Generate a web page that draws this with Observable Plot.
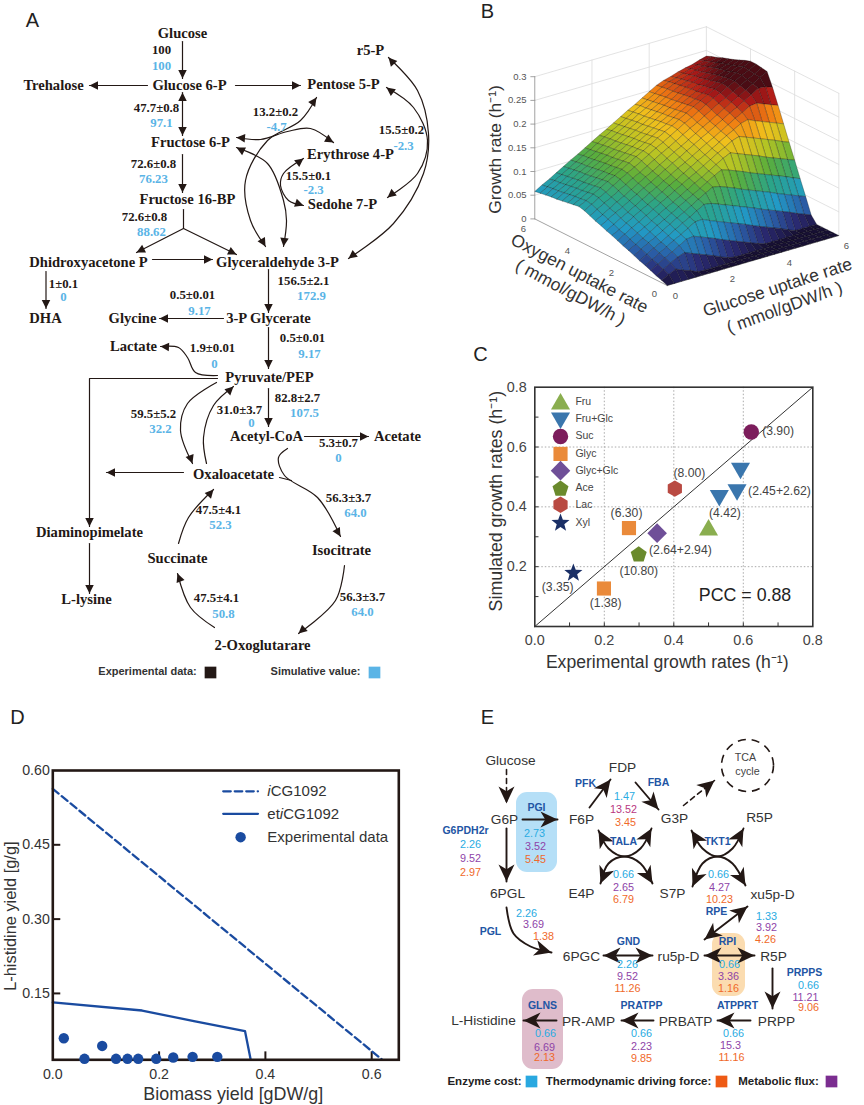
<!DOCTYPE html>
<html><head><meta charset="utf-8">
<style>html,body{margin:0;padding:0;background:#fff}#page{position:relative;width:864px;height:1105px;overflow:hidden}</style>
<script src="https://cdn.jsdelivr.net/npm/d3@7"></script>
<script src="https://cdn.jsdelivr.net/npm/@observablehq/plot@0.6"></script>
</head><body><div id="page"></div>
<script>
// ---------- Panel A : content ----------
const aNames=["Glucose","Trehalose","Glucose 6-P","Pentose 5-P","r5-P","Fructose 6-P","Erythrose 4-P","Sedohe 7-P","Fructose 16-BP","Dhidroxyacetone P","Glyceraldehyde 3-P","DHA","Glycine","3-P Glycerate","Lactate","Pyruvate/PEP","Acetyl-CoA","Acetate","Oxaloacetate","Diaminopimelate","Isocitrate","Succinate","L-lysine","2-Oxoglutarare"];
const aExperimental=["100","47.7±0.8","13.2±0.2","15.5±0.2","72.6±0.8","15.5±0.1","72.6±0.8","1±0.1","156.5±2.1","0.5±0.01","0.5±0.01","1.9±0.01","82.8±2.7","59.5±5.2","31.0±3.7","5.3±0.7","56.3±3.7","47.5±4.1","47.5±4.1","56.3±3.7"];
const aSimulated=["100","97.1","-4.7","-2.3","76.23","-2.3","88.62","0","172.9","9.17","9.17","0","107.5","32.2","0","0","64.0","52.3","50.8","64.0"];
// Panel A : layout (page pixels)
const aNodeAt=[[182,33],[53,85],[189,85],[343,84],[370,50],[190,142],[350,154],[342,204],[187,199],[88,262],[277,262],[45,318],[132,318],[268,318],[133,346],[269,377],[266,436],[397,436],[233,474],[89,532],[341,550],[177,558],[86,599],[262,645]];
const aExpAt=[[161,49],[156,107],[275,111],[401,129],[153,163],[308,175],[144,216],[63,283],[303,280],[192,294],[302,337],[212,347],[297,397],[153,413],[239,409],[338,442],[348,497],[218,509],[216,597],[362,596]];
const aSimAt=[[161,65],[161,122],[276,126],[403,145],[153,178],[313,189],[151,231],[63,296],[311,295],[199,310],[309,353],[214,363],[304,412],[160,428],[251,422],[338,457],[355,512],[220,524],[223,613],[362,611]];
// routes: [heads (0 none,1 end,2 both), ...waypoints]
const aStraight=[[1,[182,41],[182,78]],[1,[147,85],[89,85]],[1,[235,85],[300,85]],[2,[182,92],[182,135]],[1,[182,154],[182,192]],[0,[183,209],[183,228]],[1,[183,228],[136,252]],[1,[183,228],[236,254]],[1,[152,259],[212,259]],[1,[45.5,271],[45.5,308]],[1,[268,269],[268,312]],[1,[223,318],[159,318]],[1,[268,327],[268,368]],[1,[217,378],[89,378],[89,526]],[1,[89,543],[89,593]],[1,[268,388],[268,426]],[1,[304,436],[368,436]],[1,[183,472],[106,472]],[0,[279,477],[291,480]]];
const aCurved=[[1,[217,375],[195,372],[187,357],[178,347],[160,346]],[1,[216,382],[187,403],[180,430],[192,463]],[1,[206,463],[203,437],[213,405],[233,386]],[1,[287,448],[278,457],[284,475],[317,497],[340,536]],[1,[178,543],[188,517],[213,489]],[1,[214,627],[190,607],[177,573]],[1,[344,565],[335,600],[298,633]],[2,[236,137],[260,139],[287,131],[310,128],[333,142]],[2,[316,97],[300,120],[267,140],[245,180],[250,220],[265,246]],[2,[236,147],[267,163],[283,200],[286,220],[283,246]],[2,[303,158],[283,173],[280,185],[288,200],[303,205]],[2,[388,57],[417,90],[428,133],[423,173],[393,223],[348,258]],[2,[386,87],[413,107],[427,140],[417,173],[387,197]]];
// ---------- Panel B : growth rate x1000, rows = oxygen 0..6, columns = glucose 0..6, step 0.25 ----------
const bGrowth=[
[0,0,0,0,0,0,0,0,0,0,0,0,0,0,0,0,0,0,0,0,0,0,0,0,0],
[5,13,20,13,8,1,0,0,0,0,0,0,0,0,0,0,0,0,0,0,0,0,0,0,0],
[9,18,27,35,40,34,28,22,16,9,3,0,0,0,0,0,0,0,0,0,0,0,0,0,0],
[14,23,32,40,49,58,60,54,48,42,35,29,23,17,11,5,0,0,0,0,0,0,0,0,0],
[19,27,36,45,54,62,71,80,81,74,68,62,56,50,44,37,31,25,19,13,6,0,0,0,0],
[23,32,41,49,58,67,76,84,93,102,100,94,88,82,76,70,64,57,51,45,39,33,26,20,14],
[28,37,46,54,63,72,81,89,98,107,116,124,121,115,109,102,96,90,84,78,71,65,59,53,47],
[33,41,50,59,68,76,85,94,103,111,120,129,138,146,141,135,129,122,116,110,104,98,92,85,79],
[37,46,55,63,72,81,90,98,107,116,125,133,142,151,160,167,161,155,149,143,136,130,124,118,112],
[42,51,60,68,77,86,95,103,112,121,130,138,147,156,165,173,182,187,181,175,169,163,157,150,144],
[47,55,64,73,82,90,99,108,117,125,134,143,152,160,169,178,187,195,204,208,201,195,189,183,177],
[51,60,69,77,86,95,104,112,121,130,139,147,156,165,174,182,191,200,209,217,226,228,222,216,210],
[56,65,74,82,91,100,109,117,126,135,144,152,161,170,179,187,196,205,214,222,231,240,249,248,242],
[60,69,78,87,95,104,113,122,130,139,148,157,165,174,183,192,200,209,218,227,235,244,253,262,270],
[65,74,83,91,100,109,118,126,135,144,153,161,170,179,188,196,205,214,223,230,239,247,256,263,272],
[70,79,88,96,105,114,123,131,140,149,158,166,175,184,193,201,210,219,228,235,243,251,259,266,274],
[73,81,90,99,108,116,125,134,143,151,160,169,178,186,195,204,213,221,230,237,245,251,259,267,274],
[71,79,88,97,106,114,123,132,141,149,158,167,176,184,193,202,211,219,227,234,242,248,255,262,270],
[69,78,86,95,104,113,121,130,139,148,156,165,174,183,191,200,209,218,225,232,239,246,251,258,265],
[67,76,85,93,102,111,120,128,137,146,155,163,172,181,190,198,207,216,224,229,236,242,249,254,260],
[65,74,83,92,100,109,118,127,135,144,153,162,170,179,188,197,205,214,222,228,233,239,245,251,256],
[64,72,81,90,99,107,116,125,134,142,151,160,169,177,186,195,204,212,220,225,231,235,241,246,252],
[62,71,79,88,97,106,114,123,132,141,149,158,167,176,184,193,202,211,218,223,228,233,237,242,247],
[60,69,78,86,95,104,113,121,130,139,148,156,165,174,183,191,200,209,216,220,225,230,234,238,243],
[58,67,75,84,93,102,110,119,128,137,145,154,163,172,180,189,198,207,213,217,222,226,229,234,238]];
const bZTicks=[0,0.05,0.1,0.15,0.2,0.25,0.3];
const bZLabels=["0","0.05","0.1","0.15","0.2","0.25","0.3"];
const bUptakeTicks=[0,2,4,6];
const bColorStops=[0,0.015,0.035,0.058,0.09,0.12,0.15,0.18,0.205,0.23,0.25];
const bColors=["#171033","#2a2a72","#2a5fa8","#229ac6","#2aa48a","#5aae3c","#b6c424","#f0c01c","#f07a12","#b01a18","#4a0c14"];
// ---------- Panel C ----------
const cNames=["Fru","Fru+Glc","Suc","Glyc","Glyc+Glc","Ace","Lac","Xyl"];
const cColors=["#8aae4f","#3a76ad","#7c1d5c","#ea8a3a","#6f4f98","#6a8a2c","#b94a42","#1a2f66"];
const cPoints=[["Fru",.5,.323],["Fru+Glc",.592,.529],["Fru+Glc",.582,.457],["Fru+Glc",.531,.438],["Suc",.623,.65],["Glyc",.271,.329],["Glyc",.199,.127],["Glyc+Glc",.352,.312],["Ace",.299,.24],["Lac",.403,.461],["Xyl",.111,.179]];
const cUptakes=["(3.90)","(2.45+2.62)","(4.42)","(8.00)","(6.30)","(2.64+2.94)","(10.80)","(3.35)","(1.38)"];
const cUptakeX=[.7,.704,.547,.445,.264,.419,.299,.066,.204];
const cUptakeY=[.653,.452,.38,.513,.38,.254,.185,.131,.077];
const cLegendDotY=[.744,.697,.635,.577,.521,.46,.407,.346];
const cLegendTextY=[.753,.695,.637,.579,.521,.463,.406,.348];
// ---------- Panel D ----------
const dModelX=[0,.62], dModelY=[.563,.016];
const dEtX=[0,.168,.2655,.3616,.372], dEtY=[.132,.1155,.094,.074,.018];
const dExpX=[.0207,.0929,.0596,.119,.1406,.1607,.1946,.2266,.263,.3095];
const dExpY=[.0596,.044,.018,.018,.018,.018,.018,.0206,.022,.022];
// ---------- Panel E : content ----------
const eNames=["Glucose","FDP","G6P","F6P","G3P","R5P","6PGL","E4P","S7P","xu5p-D","6PGC","ru5p-D","R5P","PRPP","PRBATP","PR-AMP","L-Histidine"];
const eNodeAt=[[510,760],[622,767],[504,819],[581,819],[674,818],[759,817],[507,893],[581,893],[672,893],[772,894],[581,956],[678,956],[773,956],[776,1021],[685,1021],[588,1021],[483,1020]];
const eEnzymes=["PFK","FBA","PGI","G6PDH2r","TALA","TKT1","RPE","PGL","GND","RPI","PRPPS","ATPPRT","PRATPP","GLNS"];
const eEnzymeAt=[[585,783],[658,782],[536,807],[465,830],[623,841],[717,841],[716,911],[490,931],[628,941],[727,941],[804,972],[737,1005],[641,1005],[542,1005]];
const eCost=["2.73","2.26","1.47","0.66","0.66","1.33","2.26","2.26","0.66","0.66","0.66","0.66","0.66"];
const eFlux=["3.52","9.52","13.52","2.65","4.27","3.92","3.69","9.52","3.36","11.21","15.3","2.23","6.69"];
const eForce=["5.45","2.97","3.45","6.79","10.23","4.26","1.38","11.26","1.16","9.06","11.16","9.85","2.13"];
const eCostAt=[[534,833],[470,844],[624,796],[623,874],[718,874],[766,916],[526,913],[627,964],[729,964],[808,985],[733,1033],[641,1033],[545,1033]];
const eFluxAt=[[535,846],[470,858],[623,809],[623,887],[719,887],[766,927],[533,924],[627,976],[728,976],[805,997],[730,1045],[641,1046],[544,1047]];
const eForceAt=[[535,859],[470,872],[625,822],[623,899],[719,899],[765,939],[543,936],[627,988],[728,988],[808,1007],[731,1057],[641,1058],[544,1057]];
const eBoxes=[[516,557,792,872,"#b5dff7"],[712,745,933,996,"#fbdcb0"],[522,563,989,1069,"#dfbccb"]];
const eStraight=[[1,[506,828],[506,881]],[1,[522,819],[557,819]],[1,[589,807],[610,779]],[1,[635,782],[658,809]],[2,[704,939],[747,906]],[2,[603,955],[652,955]],[2,[704,955],[754,955]],[1,[772,968],[772,1008]],[1,[750,1020],[717,1020]],[1,[653,1020],[621,1020]],[1,[556,1020],[523,1020]]];
const eDashed=[[1,[506,769],[506,803]],[1,[683,805],[714,780]]];
const eCurved=[[2,[598,830],[608,848],[624,856],[640,848],[651,828]],[2,[600,883],[608,863],[624,856],[640,863],[652,883]],[2,[691,830],[702,848],[717,856],[732,848],[743,828]],[2,[692,886],[702,863],[717,856],[732,863],[745,885]],[1,[506,907],[513,933],[530,946],[551,952]]];

// ---------- helpers ----------
const SANS="Liberation Sans",SERIF="Liberation Serif";
const page=document.getElementById("page");
const place=(l,t)=>({position:"absolute",left:l+"px",top:t+"px",background:"transparent",overflow:"visible",fontFamily:SANS});
const rows=(edges)=>edges.flatMap((e,id)=>e.slice(1).map(p=>({id,x:p[0],y:p[1]})));
const heads=(edges)=>edges.flatMap(e=>{const p=e.slice(1),n=p.length,out=[];
  const ang=(a,b)=>Math.atan2(b[0]-a[0],-(b[1]-a[1]))*180/Math.PI;
  if(e[0]>=1)out.push({x:p[n-1][0],y:p[n-1][1],a:ang(p[n-2],p[n-1])});
  if(e[0]==2)out.push({x:p[0][0],y:p[0][1],a:ang(p[1],p[0])});
  return out;});
const headPlain={draw(c,s){const R=Math.sqrt(s/Math.PI);c.moveTo(0,0);c.lineTo(R/2,R);c.lineTo(-R/2,R);c.closePath();}};
const headStealth={draw(c,s){const R=Math.sqrt(s/Math.PI);c.moveTo(0,0);c.lineTo(R*.47,R);c.lineTo(0,R*.72);c.lineTo(-R*.47,R);c.closePath();}};
const at=(names,pos,opts)=>Plot.text(names.map((t,i)=>({t,x:pos[i][0],y:pos[i][1]})),{x:"x",y:"y",text:"t",...opts});

// ---------- Panel B geometry ----------
const px=(g,o)=>666.7+28.6*g-22.07*o;
const py=(g,o,z)=>285-8.33*g-11.1*o-474*z;
const cells=[];
for(let i=23;i>=0;i--)for(let j=23;j>=0;j--){
  const idx=[[i,j],[i,j+1],[i+1,j+1],[i+1,j],[i,j]];
  const v=(bGrowth[i][j]+bGrowth[i][j+1]+bGrowth[i+1][j]+bGrowth[i+1][j+1])/4000;
  idx.forEach(([a,b])=>{const o=a*.25,g=b*.25;cells.push({c:i*100+j,v,x:px(g,o),y:py(g,o,bGrowth[a][b]/1000)});});
}
const wall=[];let wid=0;
const seg=(a,b)=>{wid++;wall.push({id:wid,x:a[0],y:a[1]},{id:wid,x:b[0],y:b[1]});};
bZTicks.slice(1).forEach(z=>{seg([px(0,6),py(0,6,z)],[px(6,6),py(6,6,z)]);seg([px(6,6),py(6,6,z)],[px(6,0),py(6,0,z)]);});
bUptakeTicks.slice(1).forEach(t=>{seg([px(t,6),py(t,6,0)],[px(t,6),py(t,6,.3)]);seg([px(6,6-t),py(6,6-t,0)],[px(6,6-t),py(6,6-t,.3)]);});
const axisB=[];
const seg2=(a,b)=>{wid++;axisB.push({id:wid,x:a[0],y:a[1]},{id:wid,x:b[0],y:b[1]});};
seg2([px(0,6),py(0,6,0)],[px(0,6),py(0,6,.3)]);
seg2([px(0,6),py(0,6,0)],[px(0,0),py(0,0,0)]);
seg2([px(0,0),py(0,0,0)],[px(6,0),py(6,0,0)]);
bZTicks.forEach(z=>seg2([px(0,6),py(0,6,z)],[px(0,6)-4,py(0,6,z)]));
const bTextDark={fontFamily:SANS,fill:"#333",fontSize:17.4};
const bTick={fontFamily:SANS,fill:"#555",fontSize:9.5};

// ---------- main diagram ----------
const main=Plot.plot({
  width:864,height:1105,margin:0,
  x:{domain:[0,864],range:[0,864],axis:null},
  y:{domain:[0,1105],range:[0,1105],axis:null},
  color:{type:"linear",domain:bColorStops,range:bColors,interpolate:"rgb",clamp:true},
  style:place(0,0),
  marks:[
    // panel letters
    at(["A","B","C","D","E"],[[32,20],[487,11],[480,354],[17,717],[487,717]],{fontFamily:SANS,fontSize:20,fill:"#222"}),
    // Panel A
    Plot.line(rows(aStraight),{x:"x",y:"y",z:"id",stroke:"#231815",strokeWidth:1.2}),
    Plot.line(rows(aCurved),{x:"x",y:"y",z:"id",curve:"catmull-rom",stroke:"#231815",strokeWidth:1.2}),
    Plot.dot(heads([...aStraight,...aCurved]),{x:"x",y:"y",rotate:"a",symbol:headPlain,r:8.5,fill:"#231815",stroke:"none"}),
    at(aNames,aNodeAt,{fontFamily:SERIF,fontWeight:"bold",fontSize:14.6,fill:"#231815"}),
    at(aExperimental,aExpAt,{fontFamily:SERIF,fontWeight:"bold",fontSize:12.8,fill:"#231815"}),
    at(aSimulated,aSimAt,{fontFamily:SERIF,fontWeight:"bold",fontSize:12.8,fill:"#5ab4e6"}),
    at(["Experimental data:","Simulative value:"],[[147,671],[315,671]],{fontFamily:SANS,fontWeight:"bold",fontSize:11,fill:"#333"}),
    Plot.dot([[210,672]],{x:"0",y:"1",symbol:"square",r:6.6,fill:"#231815",stroke:"none"}),
    Plot.dot([[374,672]],{x:"0",y:"1",symbol:"square",r:6.6,fill:"#5ab4e6",stroke:"none"}),
    // Panel B
    Plot.line(wall,{x:"x",y:"y",z:"id",stroke:"#dcdcdc",strokeWidth:.8}),
    Plot.line(axisB,{x:"x",y:"y",z:"id",stroke:"#999",strokeWidth:.9}),
    Plot.line(cells,{x:"x",y:"y",z:"c",fill:"v",stroke:"#000",strokeOpacity:.5,strokeWidth:.5}),
    at(bZLabels,bZTicks.map(z=>[526,py(0,6,z)]),{...bTick,textAnchor:"end"}),
    at(bUptakeTicks.map(String),[[654,293],[611,272],[567,250],[523,228]],bTick),
    at(bUptakeTicks.map(String),[[675,295],[732,278],[789,262],[846,245]],bTick),
    at(["Growth rate (h⁻¹)"],[[495,149]],{...bTextDark,rotate:-90}),
    at(["Oxygen uptake rate"],[[579,273]],{...bTextDark,rotate:27.5}),
    at(["( mmol/gDW/h )"],[[570,292]],{...bTextDark,rotate:28}),
    at(["Glucose uptake rate"],[[777,287]],{...bTextDark,rotate:-18}),
    at(["( mmol/gDW/h )"],[[784,307]],{...bTextDark,rotate:-20}),
    // Panel E
    ...eBoxes.map(b=>Plot.rect([b],{x1:"0",x2:"1",y1:"2",y2:"3",fill:b[4],rx:11})),
    Plot.line(rows(eStraight),{x:"x",y:"y",z:"id",stroke:"#231815",strokeWidth:1.9}),
    Plot.line(rows(eDashed),{x:"x",y:"y",z:"id",stroke:"#231815",strokeWidth:1.6,strokeDasharray:"5,4"}),
    Plot.line(rows(eCurved),{x:"x",y:"y",z:"id",curve:"catmull-rom",stroke:"#231815",strokeWidth:1.9}),
    Plot.dot(heads([...eStraight,...eDashed,...eCurved]),{x:"x",y:"y",rotate:"a",symbol:headStealth,r:17,fill:"#231815",stroke:"none"}),
    Plot.dot([[747,765]],{x:"0",y:"1",r:26,fill:"none",stroke:"#231815",strokeWidth:1.6,strokeDasharray:"8,6"}),
    at(["TCA","cycle"],[[745,757],[747,771]],{fontFamily:SANS,fontSize:10.7,fill:"#444"}),
    at(eNames,eNodeAt,{fontFamily:SANS,fontSize:13.7,fill:"#333"}),
    at(eEnzymes,eEnzymeAt,{fontFamily:SANS,fontWeight:"bold",fontSize:10.5,fill:"#2255a4"}),
    at(eCost,eCostAt,{fontFamily:SANS,fontSize:10.8,fill:"#29abe2"}),
    at(eFlux,eFluxAt,{fontFamily:SANS,fontSize:10.8,fill:"#8e44a8",filter:d=>d.t!=="13.52"}),
    at(eFlux,eFluxAt,{fontFamily:SANS,fontSize:10.8,fill:"#b8377f",filter:d=>d.t==="13.52"}),
    at(eForce,eForceAt,{fontFamily:SANS,fontSize:10.8,fill:"#f0692a"}),
    at(["Enzyme cost:","Thermodynamic driving force:","Metabolic flux:"],[[484,1081],[628,1081],[778,1081]],{fontFamily:SANS,fontWeight:"bold",fontSize:11.5,fill:"#222"}),
    Plot.dot([[531,1081]],{x:"0",y:"1",symbol:"square",r:6.6,fill:"#29a8e0",stroke:"none"}),
    Plot.dot([[721,1081]],{x:"0",y:"1",symbol:"square",r:6.6,fill:"#ee5a14",stroke:"none"}),
    Plot.dot([[831,1081]],{x:"0",y:"1",symbol:"square",r:6.6,fill:"#7b2d90",stroke:"none"})
  ]
});
page.append(main);

// ---------- Panel C ----------
const polygon=(n,rot)=>({draw(c,s){const R=Math.sqrt(s/Math.PI);for(let k=0;k<n;k++){const a=rot+k*2*Math.PI/n,x=R*Math.sin(a),y=-R*Math.cos(a);k?c.lineTo(x,y):c.moveTo(x,y);}c.closePath();}});
const starShape={draw(c,s){const R=Math.sqrt(s/Math.PI);for(let k=0;k<10;k++){const a=k*Math.PI/5,r=k%2?R*.42:R,x=r*Math.sin(a),y=-r*Math.cos(a);k?c.lineTo(x,y):c.moveTo(x,y);}c.closePath();}};
const cSymbols=[polygon(3,0),polygon(3,Math.PI),"circle",polygon(4,Math.PI/4),polygon(4,0),polygon(5,0),polygon(6,0),starShape];
const cRadii=[11,11,7.7,10,9.8,8.4,8.2,9.5];
const cPlot=Plot.plot({
  width:394,height:340,marginLeft:64.3,marginRight:51.7,marginTop:46.7,marginBottom:54,
  x:{domain:[0,.8]},y:{domain:[0,.8]},style:place(470,340),
  marks:[
    Plot.ruleX([.2,.4,.6],{stroke:"#aaa",strokeDasharray:"1.5,2"}),
    Plot.ruleY([.2,.4,.6],{stroke:"#aaa",strokeDasharray:"1.5,2"}),
    Plot.line([[0,0],[.8,.8]],{x:"0",y:"1",stroke:"#333",strokeWidth:1}),
    Plot.ruleX([.1,.2,.3,.4,.5,.6,.7],{y1:0,y2:.012,stroke:"#333"}),
    Plot.ruleY([.1,.2,.3,.4,.5,.6,.7],{x1:0,x2:.012,stroke:"#333"}),
    Plot.frame({stroke:"#333",strokeWidth:1.6}),
    Plot.axisX([0,.2,.4,.6,.8],{tickFormat:d3.format(".1f"),tickSize:0,tickPadding:8,fontSize:14.4,label:null,color:"#444"}),
    Plot.axisY([.2,.4,.6,.8],{tickFormat:d3.format(".1f"),tickSize:0,tickPadding:8,fontSize:14.4,label:null,color:"#444"}),
    ...cNames.map((n,i)=>Plot.dot(cPoints.filter(d=>d[0]===n),{x:"1",y:"2",symbol:cSymbols[i],r:cRadii[i],fill:cColors[i],stroke:"none"})),
    ...cNames.map((n,i)=>Plot.dot([[.074,cLegendDotY[i]]],{x:"0",y:"1",symbol:cSymbols[i],r:cRadii[i],fill:cColors[i],stroke:"none"})),
    Plot.text(cNames,{x:()=>.117,y:(d,i)=>cLegendTextY[i],text:d=>d,textAnchor:"start",fontSize:10.5,fill:"#444"}),
    Plot.text(cUptakes,{x:(d,i)=>cUptakeX[i],y:(d,i)=>cUptakeY[i],text:d=>d,fontSize:12.2,fill:"#444"}),
    Plot.text(["PCC = 0.88"],{x:()=>.605,y:()=>.103,text:d=>d,fontSize:17.8,fill:"#222"}),
    Plot.text(["Experimental growth rates (h⁻¹)"],{x:()=>.381,y:()=>-.119,text:d=>d,fontSize:17.6,fill:"#333"}),
    Plot.text(["Simulated growth rates (h⁻¹)"],{x:()=>-.11,y:()=>.419,text:d=>d,fontSize:17.8,fill:"#333",rotate:-90})
  ]
});
page.append(cPlot);

// ---------- Panel D ----------
const DBLUE="#1a4ba0";
const dLine=(xs,ys,o)=>Plot.line(xs.map((x,i)=>[x,ys[i]]),{x:"0",y:"1",stroke:DBLUE,strokeWidth:2.3,...o});
const dPlot=Plot.plot({
  width:430,height:405,marginLeft:52.3,marginRight:31.7,marginTop:70,marginBottom:45.7,
  x:{domain:[0,.651]},y:{domain:[.016,.6]},style:place(0,700),
  marks:[
    Plot.ruleX([.2,.4,.6],{y1:.016,y2:.032,stroke:"#231815",strokeWidth:2}),
    Plot.ruleY([.15,.3,.45],{x1:0,x2:.015,stroke:"#231815",strokeWidth:2}),
    dLine(dModelX,dModelY,{strokeDasharray:"7.5,4"}),
    dLine(dEtX,dEtY,{}),
    Plot.frame({stroke:"#231815",strokeWidth:2.6}),
    Plot.dot(dExpX.map((x,i)=>[x,dExpY[i]]),{x:"0",y:"1",r:5.2,fill:DBLUE,stroke:"none"}),
    Plot.axisX([0,.2,.4,.6],{tickFormat:d3.format(".1f"),tickSize:0,tickPadding:9,fontSize:14.2,label:null,color:"#333"}),
    Plot.axisY([.15,.3,.45,.6],{tickFormat:d3.format(".2f"),tickSize:0,tickPadding:3,fontSize:14.2,label:null,color:"#333"}),
    dLine([.3207,.386],[.558,.558],{strokeDasharray:"7.5,4"}),
    dLine([.3207,.386],[.5125,.5125],{}),
    Plot.dot([[.3534,.4654]],{x:"0",y:"1",r:5.2,fill:DBLUE,stroke:"none"}),
    Plot.text(["i"],{x:()=>.4036,y:()=>.558,text:d=>d,textAnchor:"start",fontStyle:"italic",fontSize:15,fill:"#333"}),
    Plot.text(["CG1092"],{x:()=>.41,y:()=>.558,text:d=>d,textAnchor:"start",fontSize:15,fill:"#333"}),
    Plot.text(["et"],{x:()=>.4036,y:()=>.5125,text:d=>d,textAnchor:"start",fontSize:15,fill:"#333"}),
    Plot.text(["i"],{x:()=>.4272,y:()=>.5125,text:d=>d,textAnchor:"start",fontStyle:"italic",fontSize:15,fill:"#333"}),
    Plot.text(["CG1092"],{x:()=>.4335,y:()=>.5125,text:d=>d,textAnchor:"start",fontSize:15,fill:"#333"}),
    Plot.text(["Experimental data"],{x:()=>.4036,y:()=>.4654,text:d=>d,textAnchor:"start",fontSize:15,fill:"#333"}),
    Plot.text(["Biomass yield [gDW/g]"],{x:()=>.3396,y:()=>-.0527,text:d=>d,fontSize:17.9,fill:"#333"}),
    Plot.text(["L-histidine yield [g/g]"],{x:()=>-.0797,y:()=>.306,text:d=>d,fontSize:16.4,fill:"#333",rotate:-90})
  ]
});
page.append(dPlot);
</script></body></html>
